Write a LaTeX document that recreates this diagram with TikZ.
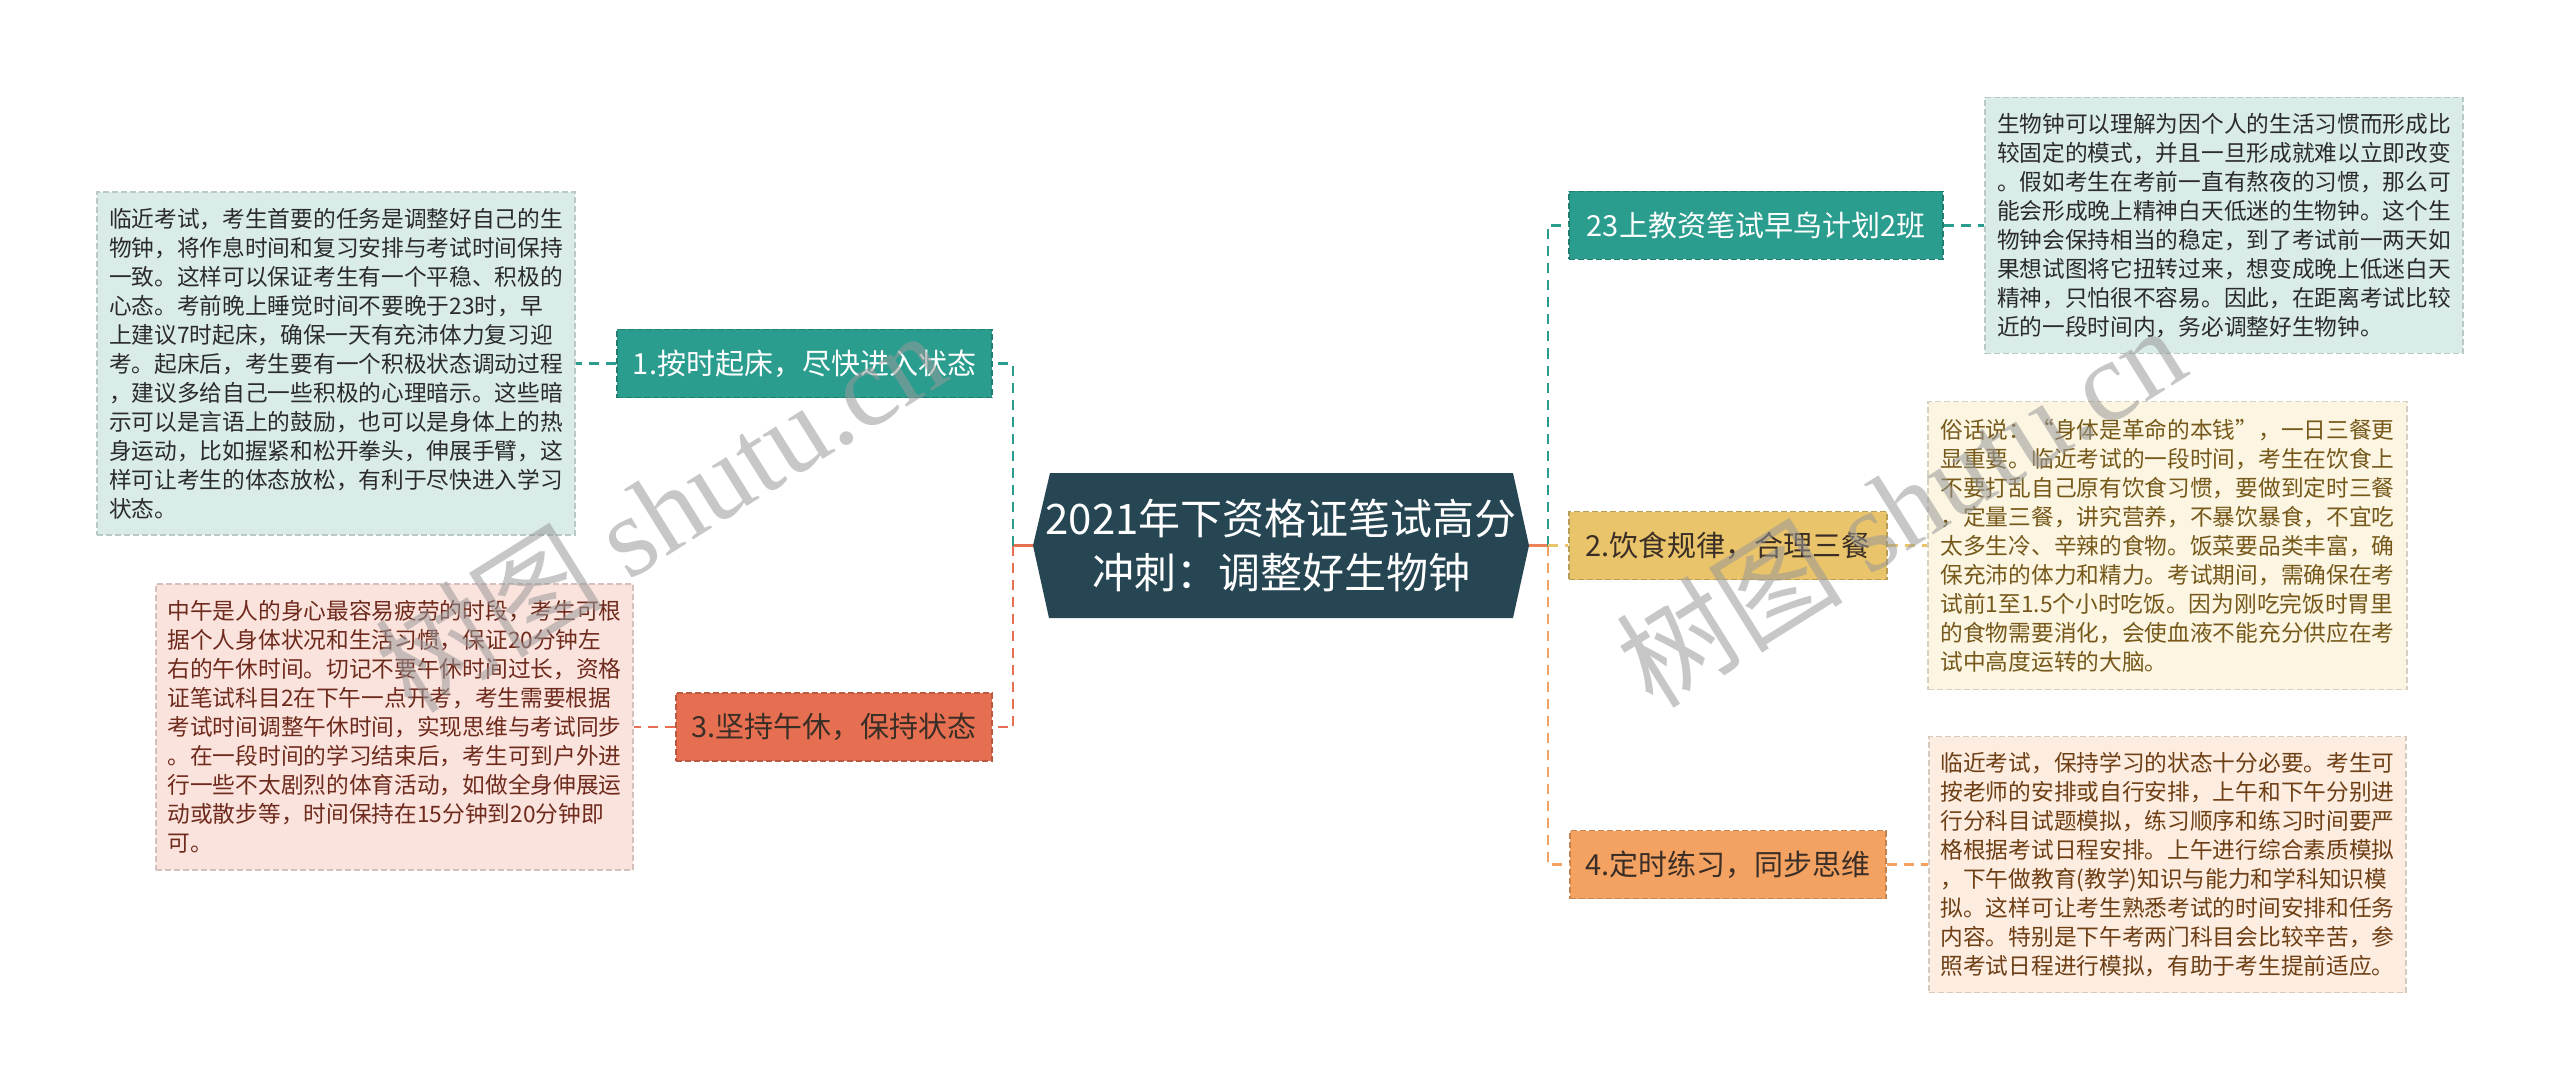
\documentclass[tikz,border=0pt]{standalone}
\usepackage{fontspec}
\setmainfont{Noto Sans CJK SC}
\newfontfamily\wmlatin{Liberation Serif}
\newcommand{\fwq}[1]{{\addfontfeature{RawFeature=+fwid}#1}}
\definecolor{hexc}{HTML}{264653}
\definecolor{tealc}{HTML}{2A9D8F}
\definecolor{yelc}{HTML}{E9C46A}
\definecolor{orac}{HTML}{F4A261}
\definecolor{redc}{HTML}{E76F51}
\definecolor{tealbg}{HTML}{D9ECEA}
\definecolor{redbg}{HTML}{FBE3DD}
\definecolor{yelbg}{HTML}{FBF5E2}
\definecolor{orabg}{HTML}{FCEDE0}
\definecolor{redtxt}{HTML}{6E2A1C}
\definecolor{yeltxt}{HTML}{76591A}
\definecolor{oratxt}{HTML}{6E3E14}
\definecolor{darktxt}{HTML}{2B2B2B}
\definecolor{nodetxt}{HTML}{3A2E26}
\begin{document}
\begin{tikzpicture}[x=0.5pt,y=-0.5pt,
  topic/.style={minimum height=34pt, inner sep=0pt, line width=0.6pt,
    dash pattern=on 3pt off 1.5pt, font=\fontsize{14.5pt}{17pt}\selectfont},
  notebox/.style={inner sep=0pt, align=left, line width=0.6pt,
    dash pattern=on 3pt off 1.5pt, font=\fontsize{11.35pt}{14.5pt}\selectfont},
  link/.style={line width=1.3pt, dash pattern=on 5pt off 3.5pt},
  stem/.style={line width=1.3pt},
  wmark/.style={rotate=32, text=black!40, opacity=0.55, font=\fontsize{57pt}{57pt}\selectfont}
]
\useasboundingbox[fill=white] (0,0) rectangle (2560,1091);

% central topic
\fill[hexc] (1050,473) -- (1513,473) -- (1529,545.5) -- (1513,618) -- (1049,618) -- (1033,545.5) -- cycle;
\node[text=white, align=center, inner sep=0pt, minimum width=248pt, minimum height=72.5pt,
  font=\fontsize{21pt}{27pt}\selectfont] (hex) at (1281,545.5)
  {2021年下资格证笔试高分\\冲刺：调整好生物钟};

% main topics
\node[topic, fill=tealc, draw=tealc!80!black, text=white, minimum width=187.5pt] (n1) at (804.5,363.5) {1.按时起床，尽快进入状态};
\node[topic, fill=redc, draw=redc!80!black, text=nodetxt, minimum width=158pt] (n3) at (834,727) {3.坚持午休，保持状态};
\node[topic, fill=tealc, draw=tealc!80!black, text=white, minimum width=187pt] (n23) at (1756,225.5) {23上教资笔试早鸟计划2班};
\node[topic, fill=yelc, draw=yelc!80!black, text=nodetxt, minimum width=159pt] (n2) at (1728,545.5) {2.饮食规律，合理三餐};
\node[topic, fill=orac, draw=orac!80!black, text=nodetxt, minimum width=158pt] (n4) at (1728,864.5) {4.定时练习，同步思维};

% note boxes
\node[notebox, fill=tealbg, draw=tealbg!85!black, text=darktxt, minimum width=239pt, minimum height=171.5pt] (b1) at (336,363.5) {临近考试，考生首要的任务是调整好自己的生\\
物钟，将作息时间和复习安排与考试时间保持\\
一致。这样可以保证考生有一个平稳、积极的\\
心态。考前晚上睡觉时间不要晚于23时，早\\
上建议7时起床，确保一天有充沛体力复习迎\\
考。起床后，考生要有一个积极状态调动过程\\
，建议多给自己一些积极的心理暗示。这些暗\\
示可以是言语上的鼓励，也可以是身体上的热\\
身运动，比如握紧和松开拳头，伸展手臂，这\\
样可让考生的体态放松，有利于尽快进入学习\\
状态。};

\node[notebox, fill=redbg, draw=redbg!85!black, text=redtxt, minimum width=238.5pt, minimum height=143pt] (b3) at (394.5,727) {中午是人的身心最容易疲劳的时段，考生可根\\
据个人身体状况和生活习惯，保证20分钟左\\
右的午休时间。切记不要午休时间过长，资格\\
证笔试科目2在下午一点开考，考生需要根据\\
考试时间调整午休时间，实现思维与考试同步\\
。在一段时间的学习结束后，考生可到户外进\\
行一些不太剧烈的体育活动，如做全身伸展运\\
动或散步等，时间保持在15分钟到20分钟即\\
可。};

\node[notebox, fill=tealbg, draw=tealbg!85!black, text=darktxt, minimum width=239pt, minimum height=128pt] (bR1) at (2224,225.5) {生物钟可以理解为因个人的生活习惯而形成比\\
较固定的模式，并且一旦形成就难以立即改变\\
。假如考生在考前一直有熬夜的习惯，那么可\\
能会形成晚上精神白天低迷的生物钟。这个生\\
物钟会保持相当的稳定，到了考试前一两天如\\
果想试图将它扭转过来，想变成晚上低迷白天\\
精神，只怕很不容易。因此，在距离考试比较\\
近的一段时间内，务必调整好生物钟。};

\node[notebox, fill=yelbg, draw=yelbg!85!black, text=yeltxt, minimum width=239.5pt, minimum height=144pt] (bR2) at (2167.5,545.5) {俗话说：\fwq{“}身体是革命的本钱\fwq{”}，一日三餐更\\
显重要。临近考试的一段时间，考生在饮食上\\
不要打乱自己原有饮食习惯，要做到定时三餐\\
，定量三餐，讲究营养，不暴饮暴食，不宜吃\\
太多生冷、辛辣的食物。饭菜要品类丰富，确\\
保充沛的体力和精力。考试期间，需确保在考\\
试前1至1.5个小时吃饭。因为刚吃完饭时胃里\\
的食物需要消化，会使血液不能充分供应在考\\
试中高度运转的大脑。};

\node[notebox, fill=orabg, draw=orabg!85!black, text=oratxt, minimum width=238.5pt, minimum height=128pt] (bR4) at (2167.5,864.5) {临近考试，保持学习的状态十分必要。考生可\\
按老师的安排或自行安排，上午和下午分别进\\
行分科目试题模拟，练习顺序和练习时间要严\\
格根据考试日程安排。上午进行综合素质模拟\\
，下午做教育(教学)知识与能力和学科知识模\\
拟。这样可让考生熟悉考试的时间安排和任务\\
内容。特别是下午考两门科目会比较辛苦，参\\
照考试日程进行模拟，有助于考生提前适应。};

% connectors
\coordinate (jL) at (1013,545.5);
\coordinate (jR) at (1548,545.5);
\draw[stem, redc] (hex.west) -- (jL);
\draw[link, tealc] (jL) |- (n1.east);
\draw[link, redc] (jL) |- (n3.east);
\draw[stem, redc!60!orac] (hex.east) -- (jR);
\draw[link, tealc] (jR) |- (n23.west);
\draw[link, yelc] (jR) -- (n2.west);
\draw[link, orac] (jR) |- (n4.west);

\draw[link, tealc] (n1.west) -- (b1.east);
\draw[link, redc] (n3.west) -- (b3.east);
\draw[link, tealc] (n23.east) -- (bR1.west);
\draw[link, yelc] (n2.east) -- (bR2.west);
\draw[link, orac] (n4.east) -- (bR4.west);

% watermarks
\node[wmark] (wm1) at (660,510) {树图 {\wmlatin shutu.cn}};
\node[wmark] (wm2) at (1900,505) {树图 {\wmlatin shutu.cn}};
\end{tikzpicture}
\end{document}
